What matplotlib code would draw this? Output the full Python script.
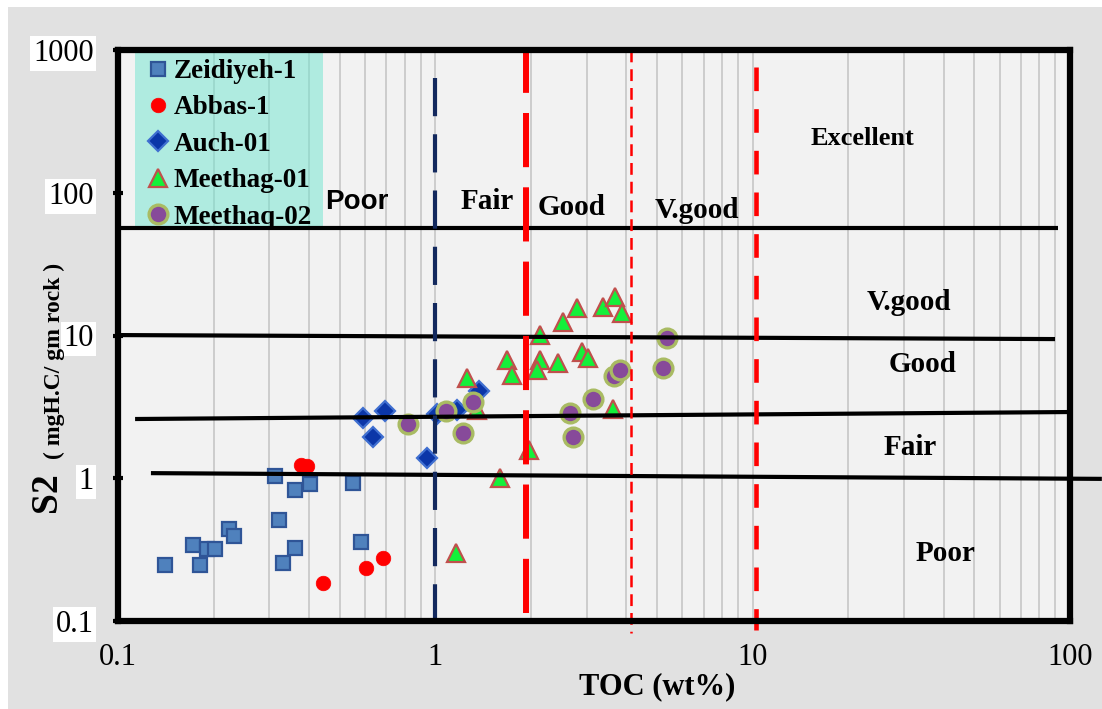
import matplotlib
matplotlib.use("Agg")
import matplotlib.pyplot as plt
from matplotlib.patches import Rectangle
from matplotlib.ticker import FixedLocator, LogLocator, NullFormatter

plt.rcParams['lines.scale_dashes'] = False

# ---------------- data ----------------
zeid_toc = [0.141, 0.172, 0.181, 0.191, 0.202, 0.223, 0.232, 0.313, 0.322, 0.332, 0.362, 0.362, 0.403, 0.552, 0.582]
zeid_s2  = [0.245, 0.338, 0.245, 0.317, 0.322, 0.440, 0.397, 1.03, 0.508, 0.255, 0.327, 0.826, 0.910, 0.929, 0.357]

abbas_toc = [0.377, 0.394, 0.444, 0.604, 0.683]
abbas_s2  = [1.24, 1.22, 0.185, 0.234, 0.275]

auch_toc = [0.593, 0.694, 0.635, 0.944, 1.01, 1.17, 1.37]
auch_s2  = [2.65, 2.95, 1.95, 1.39, 2.81, 3.03, 4.11]

meth1_toc = [1.26, 1.35, 1.68, 1.74, 2.14, 2.14, 2.09, 2.43, 2.53, 2.79, 2.89, 3.03, 3.38, 3.68, 3.87, 3.64, 1.98, 1.60, 1.16]
meth1_s2  = [5.0, 3.0, 6.72, 5.28, 10.1, 6.72, 5.72, 6.37, 12.5, 15.7, 7.69, 6.91, 15.9, 18.7, 14.4, 3.08, 1.57, 1.0, 0.301]

meth2_toc = [0.822, 1.08, 1.31, 1.22, 2.66, 2.71, 3.15, 3.66, 3.82, 5.23, 5.39]
meth2_s2  = [2.39, 2.97, 3.43, 2.09, 2.85, 1.95, 3.57, 5.19, 5.72, 5.94, 9.63]

series_names = ["Zeidiyeh-1", "Abbas-1", "Auch-01", "Meethag-01", "Meethaq-02"]

# classification boundaries (S2, roughly horizontal lines): [x0, x1], [y0, y1]
hline_x = [[0.1, 91.7], [0.1, 89.7], [0.1132, 100.0], [0.127, 126.0]]
hline_y = [[56.6, 56.6], [10.07, 9.44], [2.60, 2.91], [1.086, 0.99]]

# TOC boundaries (vertical dashed lines)
toc_blue = 1.0
toc_red_thick = 1.93
toc_red_thin = 4.14
toc_red_mid = 10.25

x_ticks = [0.1, 1, 10, 100]
x_ticklabels = ["0.1", "1", "10", "100"]
y_ticks = [0.1, 1, 10, 100, 1000]
y_ticklabels = ["0.1", "1", "10", "100", "1000"]

toc_zone_labels = ["Poor", "Fair", "Good", "V.good"]
toc_zone_x = [0.566, 1.455, 2.68, 6.68]
toc_zone_y = [86.1, 87.5, 78.2, 75.7]

s2_zone_labels = ["Excellent", "V.good", "Good", "Fair", "Poor"]
s2_zone_x = [22.1, 31.1, 34.4, 31.3, 40.4]
s2_zone_y = [241.6, 17.1, 6.31, 1.65, 0.299]

# ---------------- figure ----------------
W, H = 1102, 709
fig = plt.figure(figsize=(W / 100, H / 100), dpi=100, facecolor='white')
fig.patches.append(Rectangle((8 / W, 0), 1, 1 - 7 / H, transform=fig.transFigure,
                             facecolor='#e1e1e1', edgecolor='none', zorder=-10))

ax = fig.add_axes([118 / W, 1 - 621 / H, (1070 - 118) / W, (621 - 50) / H])
ax.set_facecolor('#f2f2f2')
ax.set_xscale('log')
ax.set_yscale('log')
ax.set_xlim(0.1, 100)
ax.set_ylim(0.1, 1000)

ax.xaxis.set_major_locator(FixedLocator(x_ticks))
ax.xaxis.set_minor_locator(LogLocator(base=10, subs=range(2, 10)))
ax.xaxis.set_minor_formatter(NullFormatter())
ax.grid(True, axis='x', which='both', color='#c6c6c6', linewidth=1.2, zorder=0)
ax.set_axisbelow(True)

ax.set_xticks(x_ticks)
ax.set_xticklabels(x_ticklabels)
ax.set_yticks(y_ticks)
ax.set_yticklabels(y_ticklabels)
ax.yaxis.set_minor_locator(FixedLocator([]))
ax.tick_params(axis='x', which='both', length=0, pad=16, labelsize=22)
ax.tick_params(axis='y', which='major', length=7, width=3, direction='inout', pad=14, labelsize=22)
for lab in ax.get_xticklabels() + ax.get_yticklabels():
    lab.set_fontfamily('Liberation Serif')
for lab in ax.get_yticklabels():
    lab.set_bbox(dict(facecolor='white', edgecolor='none', pad=2))

for sp in ax.spines.values():
    sp.set_linewidth(4.5)
    sp.set_color('black')
    sp.set_zorder(20)

# legend background box
legend_bg = Rectangle(((135 - 118) / 952, 1 - (228 - 50) / 571), (323 - 135) / 952, (228 - 50) / 571,
                      transform=ax.transAxes, facecolor='#6ee6cf', alpha=0.5, edgecolor='none', zorder=1)
ax.add_patch(legend_bg)

# scatter series
h1, = ax.plot(zeid_toc, zeid_s2, linestyle='none', marker='s', markersize=10.5,
              markerfacecolor='#4f81bd', markeredgecolor='#2f5597', markeredgewidth=1.6, zorder=3, label=series_names[0])
h2, = ax.plot(abbas_toc, abbas_s2, linestyle='none', marker='o', markersize=10.5,
              markerfacecolor='#ff0000', markeredgecolor='#ff0000', markeredgewidth=0.5, zorder=3, label=series_names[1])
h3, = ax.plot(auch_toc, auch_s2, linestyle='none', marker='D', markersize=10,
              markerfacecolor='#0b36a8', markeredgecolor='#3f6fd0', markeredgewidth=1.6, zorder=3, label=series_names[2])
h4, = ax.plot(meth1_toc, meth1_s2, linestyle='none', marker='^', markersize=13,
              markerfacecolor='#14f03a', markeredgecolor='#c0504d', markeredgewidth=1.6, zorder=3, label=series_names[3])
h5, = ax.plot(meth2_toc, meth2_s2, linestyle='none', marker='o', markersize=13.5,
              markerfacecolor='#874a9a', markeredgecolor='#a9bb63', markeredgewidth=2.4, zorder=3, label=series_names[4])

# horizontal classification lines
for xs, ys in zip(hline_x, hline_y):
    ax.plot(xs, ys, color='black', linewidth=3, solid_capstyle='butt', zorder=6, clip_on=False)

# vertical dashed TOC lines
ax.plot([toc_blue, toc_blue], [637, 0.089], color='#13295e', linewidth=3,
        linestyle=(0, (27.5, 13)), zorder=7, clip_on=False)
ax.plot([toc_red_thick, toc_red_thick], [0.1135, 1000], color='#ff0000', linewidth=4.3,
        linestyle=(0, (39, 14.5)), zorder=7, clip_on=True)
ax.plot([toc_red_thin, toc_red_thin], [1000, 0.082], color='#ff0000', linewidth=1.8,
        linestyle=(0, (8.5, 5)), zorder=7, clip_on=False)
ax.plot([toc_red_mid, toc_red_mid], [760, 0.087], color='#ff0000', linewidth=3.3,
        linestyle=(0, (17, 13)), zorder=7, clip_on=False)

# zone labels
ax.text(toc_zone_x[0], toc_zone_y[0], toc_zone_labels[0], fontsize=20, fontweight='bold',
        family='Liberation Sans', ha='center', va='center', zorder=8)
for t, xx, yy in zip(toc_zone_labels[1:], toc_zone_x[1:], toc_zone_y[1:]):
    ax.text(xx, yy, t, fontsize=21, fontweight='bold', family='Liberation Serif',
            ha='center', va='center', zorder=8)
for i, (t, xx, yy) in enumerate(zip(s2_zone_labels, s2_zone_x, s2_zone_y)):
    ax.text(xx, yy, t, fontsize=19 if i == 0 else 21, fontweight='bold', family='Liberation Serif',
            ha='center', va='center', zorder=8)

# legend
leg = ax.legend(handles=[h1, h2, h3, h4, h5], loc='upper left',
                bbox_to_anchor=((149 - 118) / 952, 1 - (59 - 50) / 571),
                frameon=False, borderpad=0, handlelength=0.7, handletextpad=0.2,
                labelspacing=0.42, borderaxespad=0,
                prop={'family': 'Liberation Serif', 'weight': 'bold', 'size': 19.5})
leg.set_zorder(9)

# axis labels
fig.text(657 / W, 1 - 687 / H, "TOC (wt%)", fontsize=22, fontweight='bold',
         family='Liberation Serif', ha='center', va='center')
fig.text(46 / W, 1 - 492 / H, "S2", fontsize=27, fontweight='bold', family='Liberation Serif',
         rotation=90, ha='center', va='center')
fig.text(54 / W, 1 - 361 / H, "( mgH.C/ gm rock )", fontsize=17, fontweight='bold',
         family='Liberation Serif', rotation=90, ha='center', va='center')

fig.savefig("out.png", dpi=100, facecolor=fig.get_facecolor())
